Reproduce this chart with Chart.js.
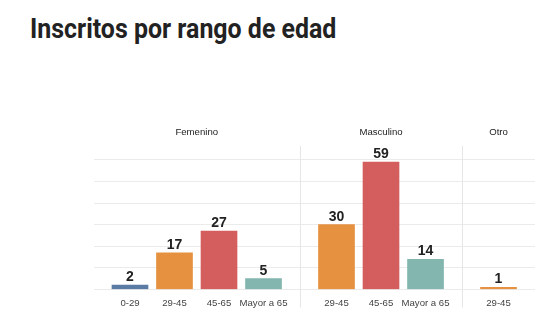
<!DOCTYPE html>
<html>
<head>
<meta charset="utf-8">
<script src="https://cdn.jsdelivr.net/npm/chart.js@4"></script>
<style>
    html, body { margin: 0; padding: 0; background: #fff; }
    #wrap { position: relative; width: 560px; height: 333px; overflow: hidden; }
    #title {
        position: absolute; left: 30px; top: 15px; margin: 0;
        font: 700 28px/28px Roboto, sans-serif; color: #222;
        white-space: nowrap; transform: scaleX(0.89); transform-origin: left top;
    }
    canvas { position: absolute; left: 0; top: 0; }
</style>
</head>
<body>
<div id="wrap">
    <h1 id="title">Inscritos por rango de edad</h1>
    <canvas id="chart" width="560" height="333"></canvas>
</div>
<script>
// Facets and counts per age range
const panels = ['Femenino', 'Masculino', 'Otro'];
const femeninoAges = ['0-29', '29-45', '45-65', 'Mayor a 65'];
const femeninoCounts = [2, 17, 27, 5];
const masculinoAges = ['29-45', '45-65', 'Mayor a 65'];
const masculinoCounts = [30, 59, 14];
const otroAges = ['29-45'];
const otroCounts = [1];
const yGrid = [0, 10, 20, 30, 40, 50, 60];

const ageColors = {
    '0-29': '#5a7ba4',
    '29-45': '#e6913f',
    '45-65': '#d45e5e',
    'Mayor a 65': '#83b6ae'
};

// space between a panel edge and its outer bars, in bar steps
const PAD = 0.82;

const groups = [
    [femeninoAges, femeninoCounts],
    [masculinoAges, masculinoCounts],
    [otroAges, otroCounts]
];

const points = [], colors = [], ageTicks = [], sepValues = [], panelTicks = [];
let start = -PAD;
groups.forEach(([ages, counts], p) => {
    const first = start + PAD;
    ages.forEach((age, i) => {
        points.push({ x: first + i, y: counts[i] });
        colors.push(ageColors[age]);
        ageTicks.push({ value: first + i, label: age });
    });
    const end = first + ages.length - 1 + PAD;
    panelTicks.push({ value: (start + end) / 2, label: panels[p] });
    if (p < groups.length - 1) sepValues.push(end);
    start = end;
});
const xMin = -PAD, xMax = start;

const near = (a, b) => Math.abs(a - b) < 1e-6;
const labelFor = list => v => {
    const hit = list.find(item => near(item.value, v));
    return hit ? hit.label : '';
};

Chart.defaults.font.family = '"Liberation Sans", Arial, sans-serif';

// thin vertical lines between the facets
const panelLines = {
    id: 'panelLines',
    beforeDatasetsDraw(chart) {
        const { ctx, chartArea } = chart;
        const xs = chart.scales.x;
        ctx.save();
        ctx.strokeStyle = '#e6e6e6';
        ctx.lineWidth = 1;
        sepValues.forEach(v => {
            const px = Math.round(xs.getPixelForValue(v)) + 0.5;
            ctx.beginPath();
            ctx.moveTo(px, chartArea.top);
            ctx.lineTo(px, chartArea.bottom + 18);
            ctx.stroke();
        });
        ctx.restore();
    }
};

// bold numbers above every bar
const valueLabels = {
    id: 'valueLabels',
    afterDatasetsDraw(chart) {
        const ctx = chart.ctx;
        const meta = chart.getDatasetMeta(0);
        ctx.save();
        ctx.font = 'bold 14px "Liberation Sans", Arial, sans-serif';
        ctx.fillStyle = '#222';
        ctx.textAlign = 'center';
        ctx.textBaseline = 'alphabetic';
        meta.data.forEach((bar, i) => {
            ctx.fillText(points[i].y, bar.x, bar.y - 4);
        });
        ctx.restore();
    }
};

new Chart(document.getElementById('chart'), {
    type: 'bar',
    data: {
        datasets: [{
            data: points,
            backgroundColor: colors,
            borderWidth: 0,
            barThickness: 36
        }]
    },
    options: {
        responsive: false,
        animation: false,
        layout: { padding: { left: 93.5, right: 25, top: 126.5, bottom: 24 } },
        plugins: {
            legend: { display: false },
            tooltip: { enabled: false }
        },
        scales: {
            x: {
                type: 'linear',
                position: 'bottom',
                offset: false,
                min: xMin,
                max: xMax,
                afterBuildTicks: s => {
                    s.ticks = ageTicks.map(t => ({ value: t.value }));
                },
                ticks: {
                    autoSkip: false,
                    maxRotation: 0,
                    padding: 0,
                    color: '#444',
                    font: { size: 9.6 },
                    callback: labelFor(ageTicks)
                },
                grid: { display: false, offset: false },
                border: { display: false }
            },
            x2: {
                type: 'linear',
                position: 'top',
                offset: false,
                min: xMin,
                max: xMax,
                afterBuildTicks: s => {
                    s.ticks = panelTicks.map(t => ({ value: t.value }));
                },
                ticks: {
                    autoSkip: false,
                    maxRotation: 0,
                    padding: 0,
                    color: '#222',
                    font: { size: 9.6 },
                    callback: labelFor(panelTicks)
                },
                grid: { display: false, offset: false },
                border: { display: false }
            },
            y: {
                min: 0,
                max: 66.4,
                afterBuildTicks: s => {
                    s.ticks = yGrid.map(v => ({ value: v }));
                },
                ticks: { display: false },
                grid: { color: '#ebebeb', drawTicks: false },
                border: { display: false }
            }
        }
    },
    plugins: [panelLines, valueLabels]
});
</script>
</body>
</html>
